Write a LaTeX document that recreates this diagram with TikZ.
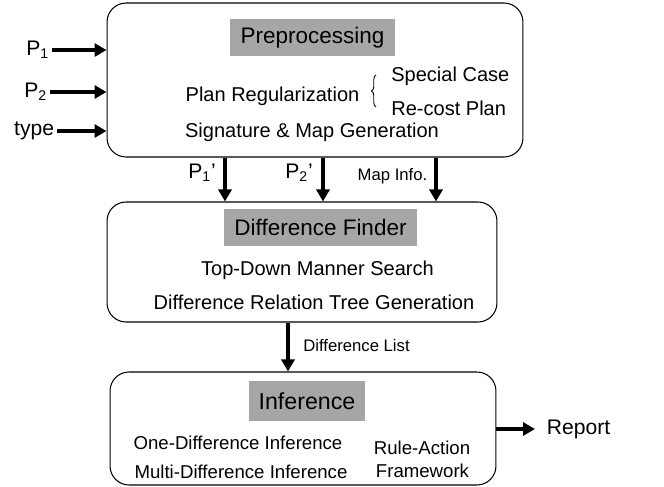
\documentclass[tikz,border=0pt]{standalone}
\usepackage{fontspec}
\setmainfont{Liberation Sans}
\usetikzlibrary{arrows.meta}
\usetikzlibrary{decorations.pathreplacing}
\definecolor{titlegray}{RGB}{166,166,166}
\tikzstyle{stage} = [rectangle, rounded corners=0.38cm, draw=black, line width=0.6pt]
\tikzstyle{title} = [rectangle, fill=titlegray, inner sep=0pt, font=\fontsize{12.8}{14}\selectfont]
\tikzstyle{txt} = [inner sep=0pt, font=\fontsize{11.4}{13}\selectfont]
\tikzstyle{txtsm} = [inner sep=0pt, font=\fontsize{10.6}{12}\selectfont]
\tikzstyle{lbl} = [inner sep=0pt, font=\fontsize{9.5}{11}\selectfont]
\tikzstyle{io} = [inner sep=1.5pt, font=\fontsize{12}{14}\selectfont]
\tikzstyle{arr} = [line width=2pt, -{Triangle[length=0.24cm,width=0.26cm]}]

\begin{document}
\begin{tikzpicture}[x=0.02cm,y=-0.02cm]
\useasboundingbox (0,0) rectangle (664,487);

\node (pre) [stage, minimum width=8.32cm, minimum height=3.08cm] at (315,80) {};
\node (dif) [stage, minimum width=7.8cm, minimum height=2.4cm] at (302,262) {};
\node (inf) [stage, minimum width=7.72cm, minimum height=2.26cm] at (303,428.5) {};

\node (preT) [title, minimum width=3.3cm, minimum height=0.74cm] at (312.5,37.5) {Preprocessing};
\node (difT) [title, minimum width=3.86cm, minimum height=0.74cm] at (320.5,227.5) {Difference Finder};
\node (infT) [title, font=\fontsize{13.2}{15}\selectfont, minimum width=2.32cm, minimum height=0.8cm] at (307,401) {Inference};

\node (reg) [txt] at (272.5,96) {Plan Regularization};
\node (spc) [txt, anchor=west] at (391,76) {Special Case};
\node (rcp) [txt, anchor=west] at (391,108) {Re-cost Plan};
\node (sig) [txt] at (312,132) {Signature \& Map Generation};
\draw[decorate, decoration={brace, amplitude=2.5pt}, line width=0.5pt] (376,107) -- (376,75);

\node (tds) [txt] at (317.5,270) {Top-Down Manner Search};
\node (drt) [txt] at (314,302) {Difference Relation Tree Generation};

\node (one) [txtsm] at (238,443) {One-Difference Inference};
\node (mul) [txtsm] at (241,472) {Multi-Difference Inference};
\node (rul) [txtsm] at (422,448) {Rule-Action};
\node (frm) [txtsm] at (422.5,471) {Framework};

% inputs and output
\node (p1) [io, anchor=east] at (52,50) {P\textsubscript{1}};
\node (p2) [io, anchor=east] at (50,92) {P\textsubscript{2}};
\node (ty) [io, anchor=east] at (57,131) {type};
\node (rep) [io, anchor=west] at (544,429) {Report};

\draw[arr] (p1.east) -- (pre.west |- p1.east);
\draw[arr] (p2.east) -- (pre.west |- p2.east);
\draw[arr] (ty.east) -- (pre.west |- ty.east);
\draw[arr, shorten >=0.18cm] (inf.east |- rep.west) -- (rep.west);

% between stages
\coordinate (d1) at (225,180);
\coordinate (d2) at (323,180);
\coordinate (d3) at (436,180);
\coordinate (d4) at (288,346);

\draw[arr] (pre.south -| d1) -- (dif.north -| d1);
\draw[arr] (pre.south -| d2) -- (dif.north -| d2);
\draw[arr] (pre.south -| d3) -- (dif.north -| d3);
\draw[arr] (dif.south -| d4) -- (inf.north -| d4);

\node (l1) [io, inner sep=0pt] at (202,173) {P\textsubscript{1}'};
\node (l2) [io, inner sep=0pt] at (299,173) {P\textsubscript{2}'};
\node (l3) [lbl] at (392.5,176) {Map Info.};
\node (l4) [lbl] at (356.5,346) {Difference List};

\end{tikzpicture}
\end{document}
